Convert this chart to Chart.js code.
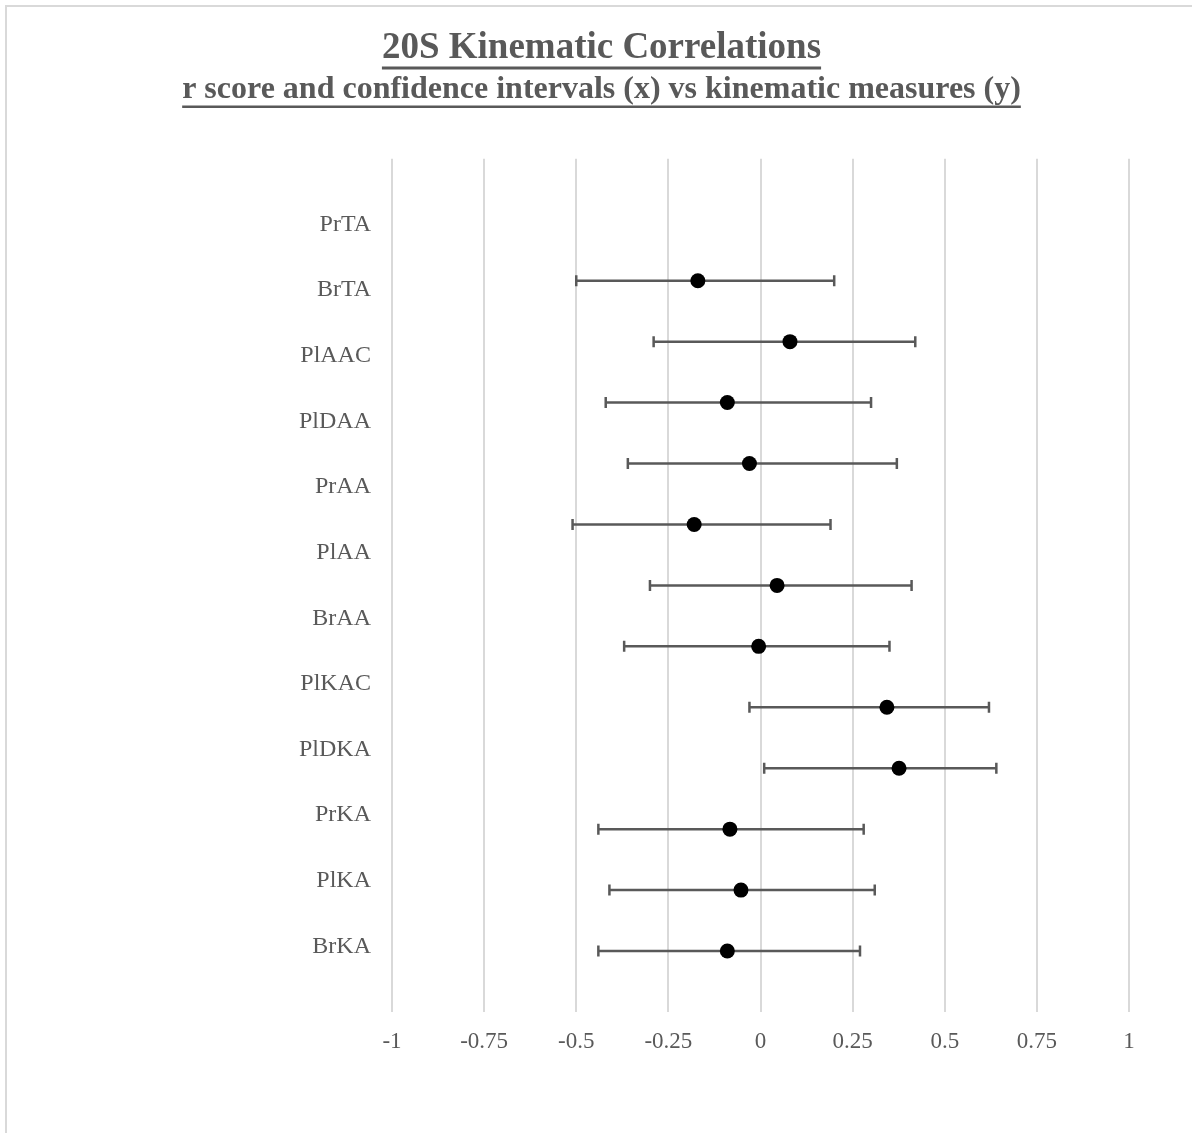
<!DOCTYPE html>
<html>
<head>
<meta charset="utf-8">
<script src="https://cdn.jsdelivr.net/npm/chart.js@4/dist/chart.umd.min.js"></script>
<style>
  html, body { margin: 0; padding: 0; background: #fff; }
  #frame { position: absolute; left: 5px; top: 5px; width: 1300px; height: 1300px; border: 2px solid #d9d9d9; }
  #wrap { position: absolute; left: 0; top: 0; width: 1192px; height: 1133px; }
</style>
</head>
<body>
<div id="frame"></div>
<div id="wrap"><canvas id="chart"></canvas></div>
<script>
// ------------------ Data ------------------
const measures = ["PrTA", "BrTA", "PlAAC", "PlDAA", "PrAA", "PlAA", "BrAA", "PlKAC", "PlDKA", "PrKA", "PlKA", "BrKA"];
const rScores  = [-0.17, 0.08, -0.09, -0.03, -0.18, 0.045, -0.005, 0.343, 0.376, -0.083, -0.053, -0.09];
const ciLower  = [-0.50, -0.29, -0.42, -0.36, -0.51, -0.30, -0.37, -0.03, 0.01, -0.44, -0.41, -0.44];
const ciUpper  = [0.20, 0.42, 0.30, 0.37, 0.19, 0.41, 0.35, 0.62, 0.64, 0.28, 0.31, 0.27];
const xTicks   = [-1, -0.75, -0.5, -0.25, 0, 0.25, 0.5, 0.75, 1];

const TITLE = "20S Kinematic Correlations";
const SUBTITLE = "r score and confidence intervals (x) vs kinematic measures (y)";

const GREY = "#595959";
const SERIF = "'Liberation Serif', 'Times New Roman', serif";

// rows counted from the bottom: first measure sits at the top
const points = rScores.map((r, i) => ({ x: r, y: measures.length - i, lo: ciLower[i], hi: ciUpper[i] }));

// ------------------ Plugins ------------------
const errorBars = {
  id: "errorBars",
  beforeDatasetsDraw(chart) {
    const { ctx, scales: { x, y } } = chart;
    ctx.save();
    ctx.strokeStyle = GREY;
    ctx.lineWidth = 2.5;
    points.forEach(p => {
      const py = y.getPixelForValue(p.y);
      const x0 = x.getPixelForValue(p.lo);
      const x1 = x.getPixelForValue(p.hi);
      ctx.beginPath();
      ctx.moveTo(x0, py); ctx.lineTo(x1, py);
      ctx.moveTo(x0, py - 5.5); ctx.lineTo(x0, py + 5.5);
      ctx.moveTo(x1, py - 5.5); ctx.lineTo(x1, py + 5.5);
      ctx.stroke();
    });
    ctx.restore();
  }
};

// underline the title and subtitle like the original
const underline = {
  id: "underline",
  afterDraw(chart) {
    const ctx = chart.ctx;
    chart.boxes
      .filter(b => b.options && typeof b.options.text === "string" && b.options.display)
      .forEach(blk => {
        const o = blk.options;
        const size = o.font.size;
        const lh = size * 1.2;
        const base = blk.top + o.padding.top + lh / 2 + 0.3375 * size;
        ctx.save();
        ctx.font = "bold " + size + "px " + SERIF;
        const w = ctx.measureText(o.text).width;
        const cx = (blk.left + blk.right) / 2;
        ctx.strokeStyle = GREY;
        ctx.lineWidth = o.text === TITLE ? 3 : 2.5;
        ctx.beginPath();
        ctx.moveTo(cx - w / 2, base + 0.2 * size);
        ctx.lineTo(cx + w / 2, base + 0.2 * size);
        ctx.stroke();
        ctx.restore();
      });
  }
};

// ------------------ Chart ------------------
new Chart(document.getElementById("chart"), {
  type: "scatter",
  data: {
    datasets: [{
      data: points,
      yAxisID: "y",
      pointRadius: 7.5,
      pointHoverRadius: 7.5,
      pointBackgroundColor: "#000",
      pointBorderColor: "#000",
      pointBorderWidth: 0
    }]
  },
  options: {
    responsive: true,
    maintainAspectRatio: false,
    animation: false,
    layout: { padding: { top: 0, right: 63, bottom: 0, left: 74 } },
    plugins: {
      legend: { display: false },
      tooltip: { enabled: false },
      title: {
        display: true,
        text: TITLE,
        color: GREY,
        font: { family: SERIF, size: 37, weight: "bold" },
        padding: { top: 26, bottom: 0 }
      },
      subtitle: {
        display: true,
        text: SUBTITLE,
        color: GREY,
        font: { family: SERIF, size: 32, weight: "bold" },
        padding: { top: 0, bottom: 50 }
      }
    },
    scales: {
      x: {
        type: "linear",
        min: -1,
        max: 1,
        afterBuildTicks: s => { s.ticks = xTicks.map(v => ({ value: v })); },
        afterFit: s => { s.height = 121; },
        grid: { color: "#d9d9d9", lineWidth: 2, drawTicks: false },
        border: { display: false },
        ticks: {
          padding: 16,
          color: GREY,
          font: { family: SERIF, size: 23 },
          callback: v => String(v)
        }
      },
      y: {
        type: "linear",
        display: false,
        min: 0,
        max: 14
      },
      yl: {
        type: "linear",
        position: "left",
        min: 0,
        max: 13,
        afterBuildTicks: s => { s.ticks = measures.map((m, i) => ({ value: measures.length - i })); },
        afterFit: s => { s.width = 392 - 74; },
        grid: { display: false, drawTicks: false },
        border: { display: false },
        ticks: {
          padding: 21,
          color: GREY,
          font: { family: SERIF, size: 24 },
          callback: v => measures[measures.length - v] || ""
        }
      }
    }
  },
  plugins: [errorBars, underline]
});
</script>
</body>
</html>
